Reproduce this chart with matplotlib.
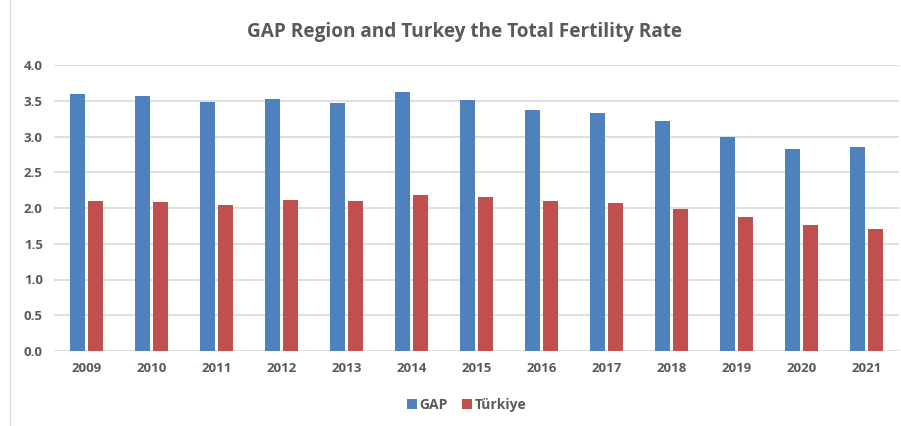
import matplotlib

matplotlib.use("Agg")

import matplotlib.pyplot as plt
import numpy as np
from matplotlib.lines import Line2D

years = ["2009", "2010", "2011", "2012", "2013", "2014", "2015",
         "2016", "2017", "2018", "2019", "2020", "2021"]
gap = [3.59, 3.57, 3.48, 3.53, 3.47, 3.62, 3.51, 3.37, 3.33, 3.21, 3.00, 2.83, 2.85]
turkiye = [2.10, 2.08, 2.04, 2.11, 2.10, 2.18, 2.15, 2.10, 2.07, 1.99, 1.88, 1.76, 1.70]
yticks = [0.0, 0.5, 1.0, 1.5, 2.0, 2.5, 3.0, 3.5, 4.0]

blue = "#4f81bd"
red = "#c0504d"
text_gray = "#595959"

plt.rcParams["font.family"] = ["Open Sans", "DejaVu Sans"]

fig = plt.figure(figsize=(9.01, 4.26), dpi=100)
ax = fig.add_axes([54 / 901, 1 - 351 / 426, 845 / 901, 286 / 426])

x = np.arange(len(years))
width = 0.23
ax.bar(x - 0.142, gap, width, color=blue, label="GAP", zorder=3)
ax.bar(x + 0.142, turkiye, width, color=red, label="Türkiye", zorder=3)

ax.set_xlim(-0.5, len(years) - 0.5)
ax.set_ylim(0, 4.0)
ax.set_yticks(yticks)
ax.set_yticklabels([f"{v:.1f}" for v in yticks])
ax.set_xticks(x)
ax.set_xticklabels(years)
ax.grid(axis="y", color="#d9d9d9", linewidth=1.2, zorder=0)
for side in ["top", "right", "left", "bottom"]:
    ax.spines[side].set_visible(False)
ax.tick_params(length=0, labelsize=9.5, labelcolor=text_gray, pad=8)
for label in ax.get_xticklabels() + ax.get_yticklabels():
    label.set_fontweight("bold")

fig.text(0.516, 1 - 32 / 426, "GAP Region and Turkey the Total Fertility Rate",
         ha="center", va="center", fontsize=13.7, fontweight="bold", color=text_gray)

handles, labels = ax.get_legend_handles_labels()
leg = fig.legend(handles, labels, loc="center", bbox_to_anchor=(0.518, 1 - 405 / 426),
                 ncol=2, frameon=False, handlelength=0.75, handleheight=0.75,
                 handletextpad=0.2, columnspacing=1.0,
                 prop={"size": 10, "weight": "bold"})
for t in leg.get_texts():
    t.set_color(text_gray)

fig.add_artist(Line2D([10 / 901, 10 / 901], [0, 1], color="#d9d9d9", linewidth=1))

fig.savefig("out.png", dpi=100)
